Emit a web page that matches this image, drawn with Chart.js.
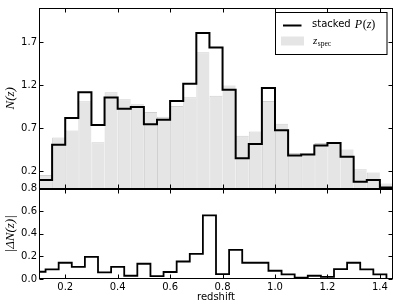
<!DOCTYPE html>
<html>
<head>
<meta charset="utf-8">
<script src="https://cdn.jsdelivr.net/npm/chart.js@4.4.0/dist/chart.umd.min.js"></script>
<style>
  html, body { margin: 0; padding: 0; background: #fff; }
  #wrap { width: 399px; height: 307px; }
</style>
</head>
<body>
<div id="wrap"><canvas id="nzChart" width="399" height="307"></canvas></div>
<script>
// redshift bin edges
const binEdges = [0.10, 0.15, 0.20, 0.25, 0.30, 0.35, 0.40, 0.45, 0.50, 0.55,
                  0.60, 0.65, 0.70, 0.75, 0.80, 0.85, 0.90, 0.95, 1.00, 1.05,
                  1.10, 1.15, 1.20, 1.25, 1.30, 1.35, 1.40, 1.45];

// N(z) per bin
const stackedPz = [0.10, 0.51, 0.82, 1.12, 0.74, 1.06, 0.93, 0.95, 0.75, 0.80,
                   1.02, 1.22, 1.81, 1.64, 1.15, 0.355, 0.52, 1.17, 0.68, 0.386,
                   0.397, 0.503, 0.53, 0.37, 0.08, 0.10, 0.015];
const zSpec = [0.16, 0.595, 0.675, 1.015, 0.54, 1.12, 1.04, 0.98, 0.89, 0.835,
               0.96, 1.064, 1.587, 1.08, 1.20, 0.614, 0.664, 1.02, 0.755, 0.415,
               0.408, 0.53, 0.54, 0.454, 0.225, 0.187, 0.06];

// |delta N(z)| at each bin edge
const deltaN = [0.064, 0.085, 0.144, 0.108, 0.196, 0.059, 0.108, 0.029, 0.135, 0.026,
                0.062, 0.155, 0.222, 0.563, 0.044, 0.258, 0.144, 0.144, 0.073, 0.041,
                0.012, 0.029, 0.018, 0.088, 0.144, 0.085, 0.041, 0.0];

const xTicks = [0.2, 0.4, 0.6, 0.8, 1.0, 1.2, 1.4];
const topTicks = [0.2, 0.7, 1.2, 1.7];
const bottomTicks = [0.0, 0.2, 0.4, 0.6, 0.8];

const TICK_LEN = 4;
const tickFont = { family: '"DejaVu Sans"', size: 10 };
const mathFont = { family: '"Liberation Serif"', size: 13, style: 'italic' };

// matplotlib style frames with inward ticks on every side
const framePlugin = {
  id: 'frames',
  afterDraw(chart) {
    const { ctx, scales } = chart;
    const x = scales.x;
    const L = Math.round(x.left) + 0.5;
    const R = Math.round(x.right) - 0.5;
    ctx.save();
    ctx.strokeStyle = '#000';
    ctx.lineWidth = 1;
    [scales.y, scales.y2].forEach(p => {
      const T = Math.round(p.top) + 0.5;
      const B = Math.round(p.bottom) - 0.5;
      ctx.strokeRect(L, T, R - L, B - T);
      ctx.beginPath();
      x.ticks.forEach(t => {
        const px = Math.round(x.getPixelForValue(t.value)) + 0.5;
        ctx.moveTo(px, T); ctx.lineTo(px, T + TICK_LEN);
        ctx.moveTo(px, B); ctx.lineTo(px, B - TICK_LEN);
      });
      p.ticks.forEach(t => {
        const py = Math.round(p.getPixelForValue(t.value)) + 0.5;
        ctx.moveTo(L, py); ctx.lineTo(L + TICK_LEN, py);
        ctx.moveTo(R, py); ctx.lineTo(R - TICK_LEN, py);
      });
      ctx.stroke();
    });
    ctx.restore();
  }
};

// legend box in the top right corner of the upper panel
const legendPlugin = {
  id: 'nzLegend',
  afterDraw(chart) {
    const { ctx } = chart;
    const top = chart.scales.y.top;
    const right = chart.scales.x.right;
    const bx = right - 117.5, by = top + 4.5, bw = 111.5, bh = 42;
    ctx.save();
    ctx.fillStyle = '#fff';
    ctx.fillRect(bx, by, bw, bh);
    ctx.strokeStyle = '#000';
    ctx.lineWidth = 1;
    ctx.strokeRect(bx, by, bw, bh);

    // stacked P(z)
    ctx.beginPath();
    ctx.lineWidth = 2;
    ctx.moveTo(bx + 7.5, by + 13);
    ctx.lineTo(bx + 26, by + 13);
    ctx.stroke();
    ctx.fillStyle = '#000';
    ctx.textBaseline = 'middle';
    ctx.font = '10px "DejaVu Sans"';
    let tx = bx + 36.5;
    ctx.fillText('stacked', tx, by + 11.5);
    tx += ctx.measureText('stacked ').width + 1;
    ctx.font = 'italic 12px "Liberation Serif"';
    ctx.fillText('P', tx, by + 12);
    tx += ctx.measureText('P').width + 0.5;
    ctx.font = '12px "Liberation Serif"';
    ctx.fillText('(', tx, by + 12);
    tx += ctx.measureText('(').width;
    ctx.font = 'italic 12px "Liberation Serif"';
    ctx.fillText('z', tx, by + 12);
    tx += ctx.measureText('z').width;
    ctx.font = '12px "Liberation Serif"';
    ctx.fillText(')', tx, by + 12);

    // z_spec
    ctx.fillStyle = '#e5e5e5';
    ctx.fillRect(bx + 5.5, by + 24, 23, 9);
    ctx.fillStyle = '#000';
    ctx.font = 'italic 11px "Liberation Serif"';
    tx = bx + 37.5;
    ctx.fillText('z', tx, by + 29);
    tx += ctx.measureText('z').width + 0.5;
    ctx.font = '7.5px "Liberation Serif"';
    ctx.fillText('spec', tx, by + 32);
    ctx.restore();
  }
};

const fixWidth = w => scale => { scale.width = w; };
const noGrid = { display: false, drawTicks: false };

const chart = new Chart(document.getElementById('nzChart'), {
  type: 'bar',
  data: {
    datasets: [
      {
        type: 'line',
        label: 'stacked P(z)',
        // last edge repeats the last bin so the final step reaches 1.45
        data: binEdges.map((e, i) => ({ x: e, y: stackedPz[Math.min(i, stackedPz.length - 1)] })),
        stepped: 'before',
        borderColor: '#000',
        borderWidth: 2,
        pointRadius: 0,
        fill: false,
        yAxisID: 'y',
        order: 1
      },
      {
        type: 'bar',
        label: 'z_spec',
        data: zSpec.map((v, i) => ({ x: (binEdges[i] + binEdges[i + 1]) / 2, y: v })),
        backgroundColor: '#e5e5e5',
        borderColor: '#d0d0d0',
        borderWidth: { top: 1, left: 1, right: 0, bottom: 0 },
        borderSkipped: false,
        barPercentage: 1,
        categoryPercentage: 1,
        inflateAmount: 0,
        yAxisID: 'y',
        order: 2
      },
      {
        type: 'line',
        label: '|ΔN(z)|',
        data: binEdges.map((e, i) => ({ x: e, y: deltaN[i] })),
        stepped: 'middle',
        borderColor: '#000',
        borderWidth: 1.8,
        pointRadius: 0,
        fill: false,
        yAxisID: 'y2',
        order: 1
      }
    ]
  },
  options: {
    responsive: false,
    animation: false,
    devicePixelRatio: 1,
    layout: { padding: { top: 5, right: 6, left: 0, bottom: 0 } },
    plugins: {
      legend: { display: false },
      tooltip: { enabled: false }
    },
    scales: {
      x: {
        type: 'linear',
        min: binEdges[0],
        max: binEdges[binEdges.length - 1],
        offset: false,
        grid: noGrid,
        border: { display: false },
        afterBuildTicks: s => { s.ticks = xTicks.map(v => ({ value: v })); },
        afterFit: s => { s.height = 28; },
        ticks: {
          autoSkip: false, maxRotation: 0, padding: 2,
          color: '#000', font: tickFont,
          callback: v => v.toFixed(1)
        },
        title: {
          display: true, text: 'redshift', color: '#000',
          font: tickFont, padding: { top: 0, bottom: 4 }
        }
      },
      y2: {
        position: 'left',
        stack: 'panels',
        stackWeight: 1,
        offset: false,
        min: 0,
        max: 0.8,
        grid: noGrid,
        border: { display: false },
        afterBuildTicks: s => { s.ticks = bottomTicks.map(v => ({ value: v })); },
        afterFit: fixWidth(39),
        ticks: {
          autoSkip: false, padding: 2, color: '#000', font: tickFont,
          callback: v => v.toFixed(1)
        },
        title: {
          display: true, text: '|ΔN(z)|', color: '#000',
          font: mathFont, padding: { top: 3, bottom: 0 }
        }
      },
      y: {
        position: 'left',
        stack: 'panels',
        stackWeight: 2,
        offset: false,
        min: 0,
        max: 2.1,
        grid: noGrid,
        border: { display: false },
        afterBuildTicks: s => { s.ticks = topTicks.map(v => ({ value: v })); },
        afterFit: fixWidth(39),
        ticks: {
          autoSkip: false, padding: 2, color: '#000', font: tickFont,
          callback: v => v.toFixed(1)
        },
        title: {
          display: true, text: 'N(z)', color: '#000',
          font: mathFont, padding: { top: 3, bottom: 0 }
        }
      }
    }
  },
  plugins: [framePlugin, legendPlugin]
});
</script>
</body>
</html>
